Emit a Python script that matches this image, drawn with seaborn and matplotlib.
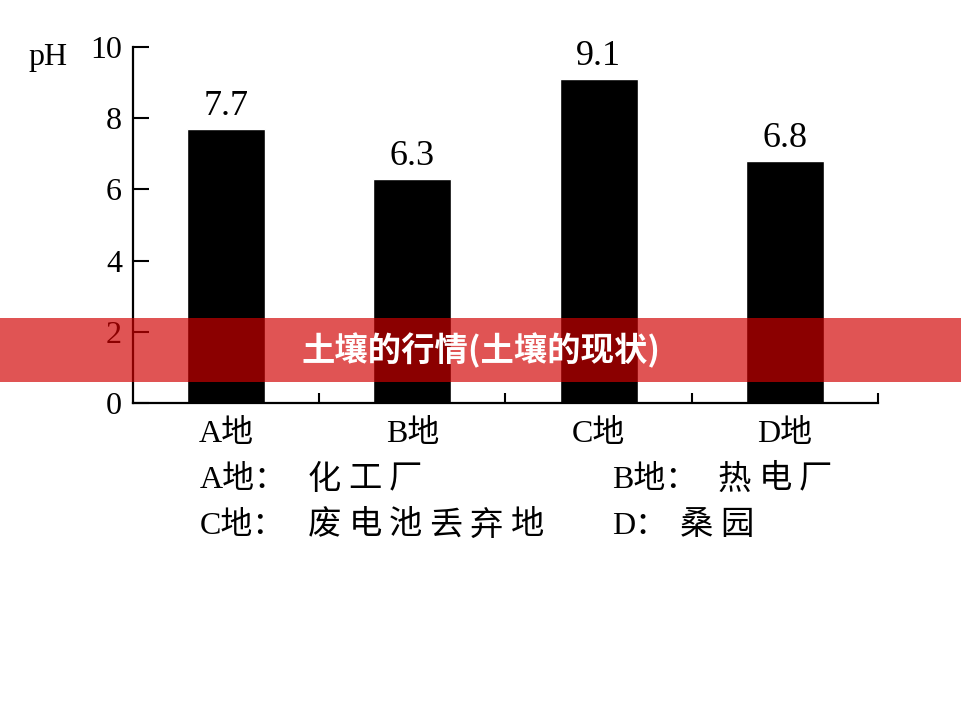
import matplotlib
matplotlib.use('Agg')
import matplotlib.pyplot as plt
from matplotlib.patches import Rectangle
import seaborn as sns
import pandas as pd

# values
sites = ['A地', 'B地', 'C地', 'D地']
ph_values = [7.7, 6.3, 9.1, 6.8]
y_ticks = [0, 2, 4, 6, 8, 10]
note_prefixes = ['A地：', 'B地：', 'C地：', 'D：']
note_sources = ['化工厂', '热电厂', '废电池丢弃地', '桑园']
banner_title = '土壤的行情(土壤的现状)'

sns.set_style('ticks')
plt.rcParams['font.family'] = ['Liberation Serif', 'Noto Sans CJK SC']
plt.rcParams['text.color'] = 'black'
plt.rcParams['xtick.color'] = 'black'
plt.rcParams['ytick.color'] = 'black'
plt.rcParams['axes.edgecolor'] = 'black'

W, H = 962, 701
df = pd.DataFrame({'site': sites, 'ph': ph_values})

fig = plt.figure(figsize=(W / 100, H / 100), dpi=100)
ax = fig.add_axes([133 / W, 1 - 403 / H, 745 / W, 356 / H])
sns.barplot(data=df, x='site', y='ph', color='black', saturation=1,
            width=0.42, ax=ax)
ax.set_xlim(-0.5, 3.5)
ax.set_ylim(0, 10)
ax.set_xlabel('')
ax.set_ylabel('')
sns.despine(ax=ax)
for side in ['left', 'bottom']:
    ax.spines[side].set_linewidth(1.6)
    ax.spines[side].set_color('black')

ax.set_yticks(y_ticks)
ax.tick_params(axis='y', direction='in', length=11.5, width=1.5, pad=8,
               labelsize=23, labelcolor='black')
ax.set_xticks(range(len(sites)))
ax.set_xticklabels(sites)
ax.tick_params(axis='x', which='major', length=0, pad=12, labelsize=23,
               labelcolor='black')
ax.set_xticks([i + 0.5 for i in range(len(sites))], minor=True)
ax.tick_params(axis='x', which='minor', direction='in', length=7, width=1.5)

ax.bar_label(ax.containers[0], labels=[f'{v:.1f}' for v in ph_values],
             padding=4, fontsize=26, color='black')

fig.text(28 / W, 1 - 57 / H, 'pH', fontsize=23, ha='left', va='center')

# legend notes below the chart, CJK characters spaced out like the scan
note_layout = [(200, 308, 480), (612, 718, 480), (200, 308, 526), (612, 680, 526)]
for prefix, source, (px, cx, py) in zip(note_prefixes, note_sources, note_layout):
    fig.text(px / W, 1 - py / H, prefix, fontsize=23, ha='left', va='center')
    for k, ch in enumerate(source):
        fig.text((cx + 40.5 * k) / W, 1 - py / H, ch, fontsize=24,
                 ha='left', va='center')

# red banner overlay
fig.add_artist(Rectangle((0, 1 - 382 / H), 1, 64 / H, transform=fig.transFigure,
                         facecolor=(0.82, 0.0, 0.0), alpha=0.67, lw=0, zorder=10))
fig.text(0.5, 1 - 351 / H, banner_title, color='white', fontsize=24,
         fontweight='bold', ha='center', va='center',
         family=['Noto Sans CJK SC', 'DejaVu Sans'], zorder=11)

fig.savefig('out.png', dpi=100)
